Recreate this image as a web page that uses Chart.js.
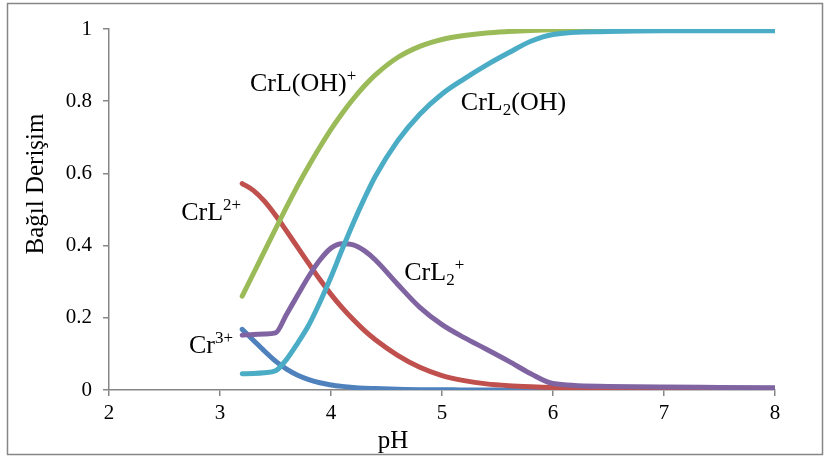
<!DOCTYPE html>
<html>
<head>
<meta charset="utf-8">
<script src="https://cdn.jsdelivr.net/npm/chart.js@4/dist/chart.umd.min.js"></script>
<style>
  body { margin: 0; background: #fff; }
  #wrap { width: 829px; height: 456px; }
</style>
</head>
<body>
<div id="wrap"><canvas id="speciesChart"></canvas></div>
<script>
// pH points
const ph = [3.2, 3.3, 3.4, 3.5, 3.6, 3.7, 3.8, 3.9, 4.0, 4.1, 4.2, 4.3, 4.4, 4.6, 4.8, 5.0, 5.2, 5.4, 5.6, 5.8, 6.0, 6.5, 7.0, 7.5, 8.0];

// relative concentration of each species
const cr3     = [0.168, 0.138, 0.108, 0.08, 0.058, 0.041, 0.029, 0.02, 0.014, 0.01, 0.007, 0.005, 0.004, 0.002, 0.001, 0.001, 0, 0, 0, 0, 0, 0, 0, 0, 0];
const crL     = [0.572, 0.553, 0.523, 0.484, 0.44, 0.395, 0.35, 0.306, 0.265, 0.228, 0.195, 0.165, 0.139, 0.096, 0.063, 0.04, 0.026, 0.017, 0.012, 0.009, 0.007, 0.005, 0.004, 0.003, 0.003];
const crLOH   = [0.26, 0.322, 0.384, 0.446, 0.507, 0.566, 0.621, 0.673, 0.722, 0.766, 0.806, 0.842, 0.873, 0.921, 0.952, 0.971, 0.982, 0.989, 0.993, 0.996, 0.998, 0.999, 1, 1, 1];
const crL2    = [0.152, 0.154, 0.155, 0.158, 0.21, 0.263, 0.315, 0.36, 0.393, 0.405, 0.402, 0.386, 0.36, 0.293, 0.229, 0.181, 0.145, 0.113, 0.08, 0.045, 0.018, 0.01, 0.008, 0.007, 0.006];
const crL2OH  = [0.045, 0.046, 0.048, 0.053, 0.085, 0.13, 0.18, 0.243, 0.313, 0.389, 0.462, 0.530, 0.592, 0.690, 0.764, 0.82, 0.862, 0.90, 0.934, 0.966, 0.985, 0.993, 0.995, 0.995, 0.995];

// axis ticks
const xTicks = [2, 3, 4, 5, 6, 7, 8];
const yTicks = [0, 0.2, 0.4, 0.6, 0.8, 1];

const serif = '"Liberation Serif", "Times New Roman", serif';
const axisGray = '#868686';

function toPoints(values) {
  return ph.map((x, i) => ({ x: x, y: values[i] }));
}

function series(values, color, order) {
  return {
    data: toPoints(values),
    borderColor: color,
    backgroundColor: color,
    borderWidth: 5,
    borderCapStyle: 'round',
    borderJoinStyle: 'round',
    pointRadius: 0,
    cubicInterpolationMode: 'monotone',
    order: order
  };
}

// species labels, placed in data units (pH, concentration)
// parts: [text, mode] with mode n = normal, p = superscript, b = subscript
const speciesLabels = [
  { x: 3.27, y: 0.828, parts: [['CrL(OH)', 'n'], ['+', 'p']] },
  { x: 5.17, y: 0.777, parts: [['CrL', 'n'], ['2', 'b'], ['(OH)', 'n']] },
  { x: 2.65, y: 0.471, parts: [['CrL', 'n'], ['2+', 'p']] },
  { x: 4.66, y: 0.304, parts: [['CrL', 'n'], ['2', 'b'], ['+', 'p']] },
  { x: 2.72, y: 0.102, parts: [['Cr', 'n'], ['3+', 'p']] }
];

const labelPlugin = {
  id: 'labels',
  beforeDraw(chart) {
    const c = chart.ctx;
    c.save();
    c.strokeStyle = axisGray;
    c.lineWidth = 1.5;
    c.strokeRect(7.5, 3.5, 815, 451);
    c.restore();
  },
  afterDatasetsDraw(chart) {
    const c = chart.ctx;
    const xs = chart.scales.x;
    const ys = chart.scales.y;
    const area = chart.chartArea;
    c.save();
    c.fillStyle = '#000';
    c.textBaseline = 'alphabetic';
    c.textAlign = 'left';

    speciesLabels.forEach(lab => {
      let px = xs.getPixelForValue(lab.x);
      const py = ys.getPixelForValue(lab.y);
      lab.parts.forEach(([t, mode]) => {
        let size = 26, dy = 0;
        if (mode === 'p') { size = 17; dy = -10; }
        if (mode === 'b') { size = 17; dy = 5; }
        c.font = size + 'px ' + serif;
        c.fillText(t, px, py + dy);
        px += c.measureText(t).width;
      });
    });

    // axis titles
    c.font = '25px ' + serif;
    c.textAlign = 'center';
    c.fillText('pH', area.left + 284, area.bottom + 58);
    c.translate(area.left - 73, area.top + 155);
    c.rotate(-Math.PI / 2);
    c.textBaseline = 'middle';
    c.fillText('Bağıl Derişim', 0, 0);
    c.restore();
  }
};

const ctx = document.getElementById('speciesChart').getContext('2d');

new Chart(ctx, {
  type: 'line',
  data: {
    datasets: [
      series(cr3, '#4F81BD', 5),
      series(crL, '#C0504D', 4),
      series(crLOH, '#9BBB59', 3),
      series(crL2, '#8064A2', 2),
      series(crL2OH, '#4BACC6', 1)
    ]
  },
  options: {
    responsive: true,
    maintainAspectRatio: false,
    animation: false,
    layout: { padding: { left: 0, right: 54, top: 29, bottom: 0 } },
    plugins: { legend: { display: false }, tooltip: { enabled: false } },
    scales: {
      x: {
        type: 'linear',
        min: 2,
        max: 8,
        afterFit(scale) { scale.height = 66; },
        afterBuildTicks(scale) { scale.ticks = xTicks.map(v => ({ value: v })); },
        ticks: { color: '#000', font: { family: serif, size: 21 }, padding: 5, callback: v => String(v) },
        grid: { drawOnChartArea: false, color: axisGray, lineWidth: 1.5, tickLength: 6 },
        border: { color: axisGray, width: 1.5 }
      },
      y: {
        min: 0,
        max: 1,
        afterFit(scale) { scale.width = 109; },
        afterBuildTicks(scale) { scale.ticks = yTicks.map(v => ({ value: v })); },
        ticks: { color: '#000', font: { family: serif, size: 21 }, padding: 11, callback: v => String(v) },
        grid: { drawOnChartArea: false, color: axisGray, lineWidth: 1.5, tickLength: 6 },
        border: { color: axisGray, width: 1.5 }
      }
    }
  },
  plugins: [labelPlugin]
});
</script>
</body>
</html>
